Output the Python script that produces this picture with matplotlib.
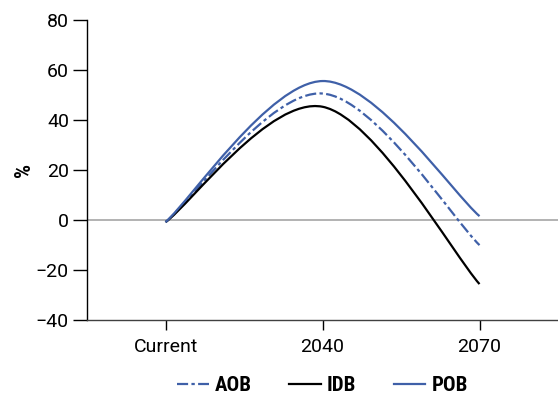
import matplotlib
matplotlib.use("Agg")
import matplotlib.pyplot as plt
from matplotlib.path import Path
from matplotlib.patches import PathPatch
from matplotlib.lines import Line2D
import numpy as np

plt.rcParams['font.family'] = ['Roboto', 'DejaVu Sans']

# ── Data ─────────────────────────────────────────────────────────────────────
categories = ["Current", "2040", "2070"]
aob = [-1.0, 50.5, -10.2]
idb = [-1.0, 45.2, -25.8]
pob = [-1.0, 55.5, 1.4]
yticks = [-40, -20, 0, 20, 40, 60, 80]

BLUE = "#3F60A8"
COND = ['Roboto Condensed', 'Roboto', 'DejaVu Sans']


def smooth_path(ys):
    """Excel-style smoothed line: cubic Bezier through each point."""
    xs = np.arange(len(ys), dtype=float)
    pts = np.column_stack([xs, ys])
    n = len(pts)
    verts = [pts[0]]
    codes = [Path.MOVETO]
    for i in range(n - 1):
        p_prev = pts[i - 1] if i > 0 else pts[i]
        p0, p1 = pts[i], pts[i + 1]
        p_next = pts[i + 2] if i + 2 < n else pts[i + 1]
        c1 = p0 + (p1 - p_prev) / 6
        c2 = p1 - (p_next - p0) / 6
        verts += [c1, c2, p1]
        codes += [Path.CURVE4] * 3
    return Path(verts, codes)


fig = plt.figure(figsize=(5.58, 4.05), dpi=100)
ax = fig.add_axes([0.156, 0.211, 0.844, 0.74])

series = [("AOB", aob, BLUE, (0, (5, 1.5, 1.5, 1.5))),
          ("IDB", idb, "black", "-"),
          ("POB", pob, BLUE, "-")]

ax.axhline(0, color="#A6A6A6", lw=1.2, zorder=1)
for name, ys, col, ls in series:
    ax.add_patch(PathPatch(smooth_path(ys), facecolor="none", edgecolor=col,
                           lw=1.6, linestyle=ls, zorder=3))

ax.set_xlim(-0.5, 2.5)
ax.set_ylim(-40, 80)
ax.set_xticks(range(len(categories)))
ax.set_xticklabels(categories)
ax.set_yticks(yticks)
ax.set_yticklabels([f"\u2212{abs(v)}" if v < 0 else str(v) for v in yticks])
ax.tick_params(axis="y", length=10, width=1, labelsize=14, pad=3)
ax.tick_params(axis="x", length=7, width=1, labelsize=14, pad=6)
ax.spines["top"].set_visible(False)
ax.spines["right"].set_visible(False)
ax.spines["left"].set_linewidth(1)
ax.spines["bottom"].set_linewidth(1)
ax.spines["bottom"].set_color("#404040")
ax.set_ylabel("%", fontsize=16, fontweight="bold", family=COND)
ax.yaxis.set_label_coords(-0.11, 0.5)

handles = [Line2D([], [], color=c, lw=1.6, linestyle=ls) for _, _, c, ls in series]
ax.legend(handles, [s[0] for s in series], loc="center",
          bbox_to_anchor=(0.5, -0.22), ncol=3, frameon=False,
          prop={"size": 15, "weight": "bold", "family": COND}, handlelength=1.5,
          handletextpad=0.3, columnspacing=1.8)

fig.savefig("out.png", dpi=100)
